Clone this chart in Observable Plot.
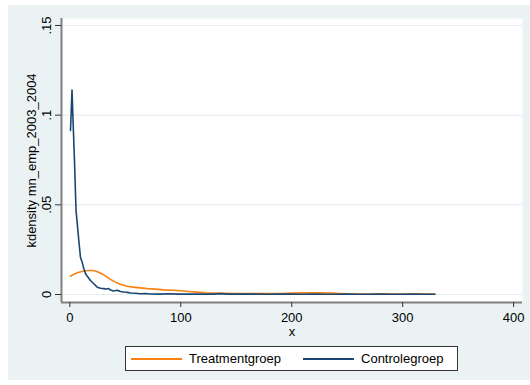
<!DOCTYPE html>
<html><head><meta charset="utf-8">
<script src="https://cdn.jsdelivr.net/npm/d3@7"></script>
<script src="https://cdn.jsdelivr.net/npm/@observablehq/plot@0.6"></script>
<style>
body{margin:0;background:#fff;font-family:"Liberation Sans",Arial,sans-serif;}
#outer{position:absolute;left:8px;top:5px;width:522px;height:375px;background:#eaf2f3;}
#chart{position:absolute;left:0;top:0;}
#legend{position:absolute;left:117px;top:341px;width:331px;height:23px;border:1px solid #333;background:#fff;font-size:13px;color:#000;display:flex;align-items:center;}
.sw{display:inline-block;width:51px;height:0;border-top:2px solid;margin-left:5px;margin-right:7px;}
.lab{white-space:nowrap;}
</style></head>
<body>
<div id="outer"><div id="chart"></div><div id="legend"></div></div>
<script>
// Series data
const seriesNames = ["Treatmentgroep", "Controlegroep"];
const seriesColors = ["#f98012", "#1a476f"];

const treatX = [0.6, 3.5, 6.6, 10, 14.1, 17, 20.2, 23, 26.1, 30, 33.7, 37, 41.2, 46, 51.7, 57, 63.7, 70, 77, 84.7, 92, 100, 107, 114.8, 122, 130, 138.7, 150, 160, 170, 180, 190, 200, 208, 215, 225, 236, 243, 250, 260, 270, 280, 290, 300, 310, 320, 329];
const treatY = [0.0102, 0.0112, 0.0121, 0.0127, 0.0132, 0.0134, 0.0134, 0.0131, 0.0124, 0.0112, 0.0097, 0.0083, 0.0069, 0.0056, 0.0046, 0.0041, 0.0037, 0.0033, 0.0030, 0.0026, 0.0024, 0.0021, 0.0017, 0.0013, 0.0010, 0.0008, 0.0007, 0.0006, 0.0006, 0.0005, 0.0005, 0.0006, 0.0008, 0.0009, 0.0009, 0.0009, 0.0008, 0.0006, 0.0004, 0.0003, 0.0003, 0.0003, 0.0003, 0.0003, 0.0003, 0.0003, 0.0003];

const ctrlX = [0.6, 1.98, 2.9, 4.2, 5.6, 6.7, 8.1, 9.6, 11.2, 12.6, 14.1, 15.9, 18.6, 21.6, 24.7, 27.7, 30.6, 33, 35, 36.7, 39.4, 41.2, 43, 45.7, 48.4, 52, 54.7, 59, 63.7, 68.2, 72.7, 81.7, 90, 98, 106, 114, 122, 130, 136, 142, 150, 160, 170, 180, 190, 200, 210, 220, 230, 240, 250, 260, 270, 280, 290, 300, 310, 320, 329];
const ctrlY = [0.0915, 0.1140, 0.0970, 0.0747, 0.0468, 0.0396, 0.0301, 0.0208, 0.0178, 0.0145, 0.0117, 0.0100, 0.0078, 0.0060, 0.0041, 0.0035, 0.0033, 0.0031, 0.0033, 0.0025, 0.0020, 0.0022, 0.0023, 0.0017, 0.0014, 0.0012, 0.0008, 0.0007, 0.0004, 0.0006, 0.0003, 0.0002, 0.0004, 0.0002, 0.0003, 0.0002, 0.0003, 0.0002, 0.0005, 0.0002, 0.0002, 0.0003, 0.0002, 0.0001, 0.0002, 0.0002, 0.0001, 0.0002, 0.0001, 0.0001, 0.0002, 0.0001, 0.0001, 0.0002, 0.0001, 0.0001, 0.0002, 0.0001, 0.0001];

const xTicks = [0, 100, 200, 300, 400];
const yTicks = [0, 0.05, 0.1, 0.15];
const xTitle = "x";
const yTitle = "kdensity mn_emp_2003_2004";

const xDomain = [-7.5, 408];
const yDomain = [-0.00446, 0.1539];

const treat = treatX.map((x, i) => ({x, y: treatY[i], s: seriesNames[0]}));
const ctrl = ctrlX.map((x, i) => ({x, y: ctrlY[i], s: seriesNames[1]}));

const fmtY = d => d === 0 ? "0" : String(d).replace(/^0/, "");

const chart = Plot.plot({
  width: 522, height: 335,
  marginLeft: 53, marginRight: 8, marginTop: 13, marginBottom: 38,
  style: {background: "transparent", fontFamily: "'Liberation Sans', Arial, sans-serif", fontSize: "13px", color: "#000"},
  x: {domain: xDomain},
  y: {domain: yDomain},
  marks: [
    Plot.frame({fill: "#fff", stroke: null}),
    Plot.gridY(yTicks, {stroke: "#e3ecef", strokeOpacity: 1, strokeWidth: 1}),
    Plot.line(treat, {x: "x", y: "y", stroke: seriesColors[0], strokeWidth: 1.6}),
    Plot.line(ctrl, {x: "x", y: "y", stroke: seriesColors[1], strokeWidth: 1.6}),
    Plot.ruleX([xDomain[0]], {stroke: "#808080", strokeWidth: 2}),
    Plot.ruleY([yDomain[0]], {stroke: "#808080", strokeWidth: 2}),
    Plot.axisX(xTicks, {tickSize: 5, tickPadding: 5, stroke: "#333", label: xTitle, labelAnchor: "center", labelArrow: "none", labelOffset: 33}),
    Plot.axisY(yTicks, {tickSize: 6, tickPadding: 5, tickRotate: -90, tickFormat: fmtY, stroke: "#333", label: yTitle, labelAnchor: "center", labelArrow: "none", labelOffset: 35})
  ]
});
document.getElementById("chart").appendChild(chart);

const leg = document.getElementById("legend");
seriesNames.forEach((n, i) => {
  const sw = document.createElement("span");
  sw.className = "sw";
  sw.style.borderTopColor = seriesColors[i];
  if (i > 0) sw.style.marginLeft = "22px";
  leg.appendChild(sw);
  const t = document.createElement("span");
  t.className = "lab";
  t.textContent = n;
  leg.appendChild(t);
});
</script>
</body></html>
